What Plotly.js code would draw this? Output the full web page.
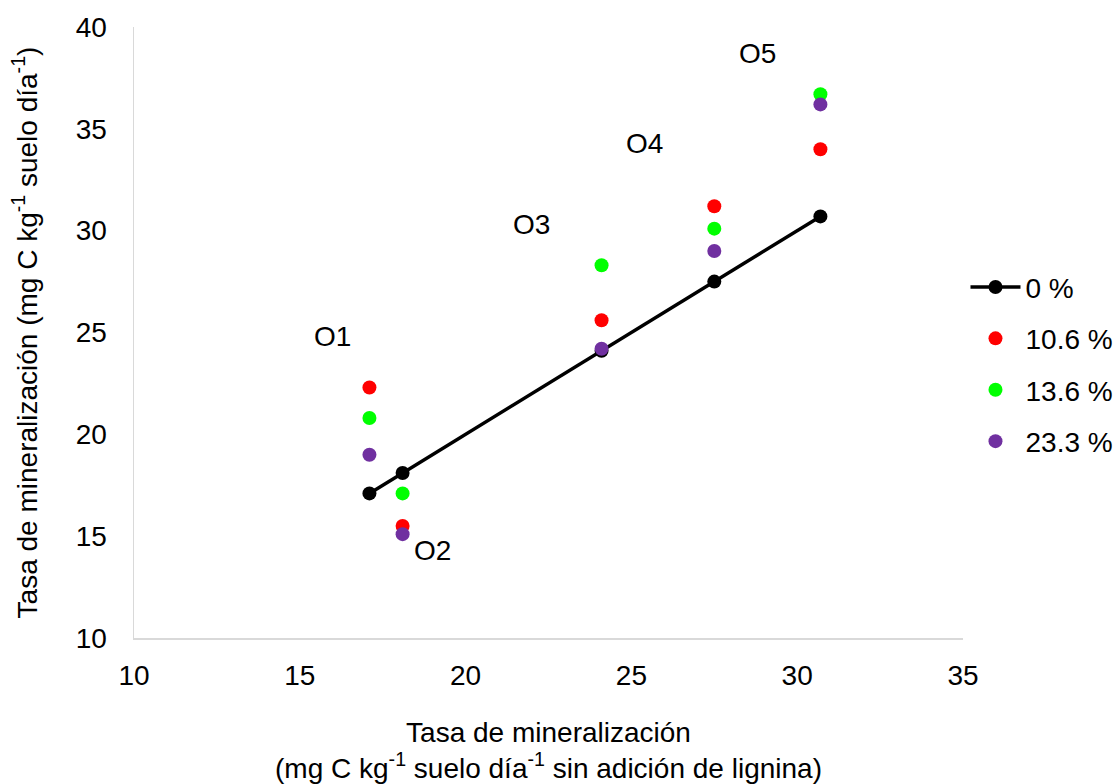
<!DOCTYPE html>
<html>
<head>
<meta charset="utf-8">
<script src="https://cdn.plot.ly/plotly-3.0.1.min.js"></script>
<style>html,body{margin:0;padding:0;background:#fff;}#chart{width:1120px;height:784px;}</style>
</head>
<body>
<div id="chart"></div>
<script>
// Mineralization rate without lignin (x) vs. with lignin additions (y), soils O1–O5
const soils = ["O1", "O2", "O3", "O4", "O5"];
const control = [17.1, 18.1, 24.1, 27.5, 30.7];
const lig106 = [22.3, 15.5, 25.6, 31.2, 34.0];
const lig136 = [20.8, 17.1, 28.3, 30.1, 36.7];
const lig233 = [19.0, 15.1, 24.2, 29.0, 36.2];
const seriesNames = ["0 %", "10.6 %", "13.6 %", "23.3 %"];
// label anchor positions for each soil (data units)
const labelX = [16.0, 19.0, 22.0, 25.4, 28.8];
const labelY = [24.8, 14.3, 30.3, 34.3, 38.7];

const font = "Liberation Sans, Arial, sans-serif";
const fs = 28;

const traces = [
  {x: control, y: control, name: seriesNames[0], mode: "lines+markers",
   line: {color: "#000000", width: 3.5}, marker: {color: "#000000", size: 14}, legendgroup: "a"},
  {x: control, y: lig106, name: seriesNames[1], mode: "markers",
   marker: {color: "#FF0000", size: 14}, legendgroup: "b"},
  {x: control, y: lig136, name: seriesNames[2], mode: "markers",
   marker: {color: "#00FF00", size: 14}, legendgroup: "c"},
  {x: control, y: lig233, name: seriesNames[3], mode: "markers",
   marker: {color: "#7030A0", size: 14}, legendgroup: "d"}
];

const annotations = soils.map((s, i) => ({
  x: labelX[i], y: labelY[i], xref: "x", yref: "y", text: s, showarrow: false,
  font: {family: font, size: fs, color: "#000"}
}));

const layout = {
  width: 1120, height: 784,
  margin: {l: 134, r: 157, t: 27, b: 146, autoexpand: false},
  paper_bgcolor: "#fff", plot_bgcolor: "#fff",
  font: {family: font, size: fs, color: "#000"},
  showlegend: true,
  legend: {x: 1.003, xanchor: "left", y: 0.448, yanchor: "middle",
           font: {family: font, size: fs, color: "#000"},
           traceorder: "grouped", tracegroupgap: 12, itemwidth: 50},
  xaxis: {range: [10, 35], dtick: 5, tick0: 10, showgrid: false, zeroline: false,
          showline: true, linecolor: "#d9d9d9", linewidth: 1.5, ticks: "",
          tickfont: {family: font, size: fs}, ticklabelstandoff: 12,
          title: {text: "Tasa de mineralización<br>(mg C kg<sup>-1</sup> suelo día<sup>-1</sup> sin adición de lignina)",
                  font: {family: font, size: fs}, standoff: 43}},
  yaxis: {range: [10, 40], dtick: 5, tick0: 10, showgrid: false, zeroline: false,
          showline: true, linecolor: "#d9d9d9", linewidth: 1.5, ticks: "",
          tickfont: {family: font, size: fs}, ticklabelstandoff: 20,
          title: {text: "Tasa de mineralización (mg C kg<sup>-1</sup> suelo día<sup>-1</sup>)",
                  font: {family: font, size: fs}, standoff: 30}},
  annotations: annotations
};

Plotly.newPlot("chart", traces, layout, {displayModeBar: false, staticPlot: true});
</script>
</body>
</html>
